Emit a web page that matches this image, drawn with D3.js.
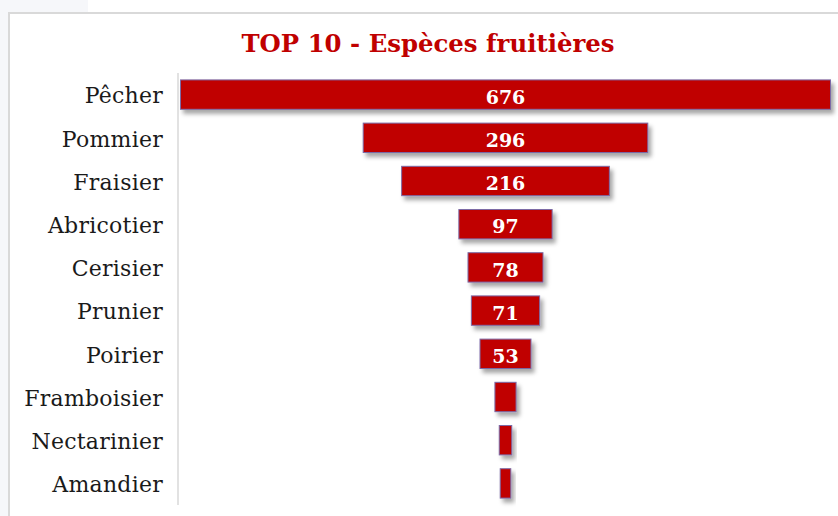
<!DOCTYPE html>
<html>
<head>
<meta charset="utf-8">
<script src="https://cdn.jsdelivr.net/npm/d3@7"></script>
<style>
  html, body { margin: 0; padding: 0; background: #ffffff; }
  svg { display: block; }
</style>
</head>
<body>
<svg id="chart" width="838" height="516"></svg>
<script>
const categories = ["Pêcher", "Pommier", "Fraisier", "Abricotier", "Cerisier", "Prunier", "Poirier", "Framboisier", "Nectarinier", "Amandier"];
const values = [676, 296, 216, 97, 78, 71, 53, 22, 13, 11];
const titleText = "TOP 10 - Espèces fruitières";

const W = 838, H = 516;
const svg = d3.select("#chart");

// page background & frame
svg.append("rect").attr("x", 0).attr("y", 0).attr("width", W).attr("height", H).attr("fill", "#f6f7fa");
svg.append("rect").attr("x", 88).attr("y", 0).attr("width", W - 88).attr("height", 12).attr("fill", "#ffffff");
svg.append("rect").attr("x", 9).attr("y", 13).attr("width", W).attr("height", H)
  .attr("fill", "#ffffff").attr("stroke", "#d9d9d9").attr("stroke-width", 2);

const defs = svg.append("defs");
const f = defs.append("filter").attr("id", "shadow").attr("x", "-20%").attr("y", "-30%").attr("width", "160%").attr("height", "180%");
f.append("feDropShadow").attr("dx", 3).attr("dy", 4).attr("stdDeviation", 2.2)
  .attr("flood-color", "#000000").attr("flood-opacity", 0.35);

const centerX = 505.5;
const k = 650 / 676;
const maxV = d3.max(values);
const x = d3.scaleLinear().domain([0, maxV]).range([0, maxV * k]);

const y = d3.scaleBand().domain(categories).range([73, 505]).paddingInner(0.32).paddingOuter(0.16);

// axis line
svg.append("line").attr("x1", 178).attr("x2", 178).attr("y1", 73).attr("y2", 505)
  .attr("stroke", "#d9d9d9").attr("stroke-width", 1.5);

// category labels via axis
const yAxis = d3.axisLeft(y).tickSize(0).tickPadding(15);
const ax = svg.append("g").attr("transform", "translate(178,0)").call(yAxis);
ax.select(".domain").remove();
ax.selectAll("text")
  .attr("font-family", "'DejaVu Serif', serif")
  .attr("font-size", 22)
  .attr("letter-spacing", 0.25)
  .attr("dy", "0.40em")
  .attr("fill", "#1a1a1a");

// bars
const data = categories.map((c, i) => ({ c, v: values[i] }));
svg.append("g").selectAll("rect").data(data).join("rect")
  .attr("x", d => centerX - x(d.v) / 2)
  .attr("y", d => y(d.c))
  .attr("width", d => x(d.v))
  .attr("height", y.bandwidth())
  .attr("fill", "#c00000")
  .attr("stroke", "#7b6aa6")
  .attr("stroke-width", 1)
  .attr("filter", "url(#shadow)");

// value labels
svg.append("g").selectAll("text").data(data.filter(d => x(d.v) > 40)).join("text")
  .attr("x", centerX)
  .attr("y", d => y(d.c) + y.bandwidth() / 2)
  .attr("dy", 9.2)
  .attr("text-anchor", "middle")
  .attr("font-family", "'DejaVu Serif', serif")
  .attr("font-weight", "bold")
  .attr("font-size", 19)
  .attr("fill", "#ffffff")
  .text(d => d.v);

// title
const title = svg.append("text")
  .attr("x", 428).attr("y", 52)
  .attr("text-anchor", "middle")
  .attr("font-family", "'DejaVu Serif', serif")
  .attr("font-weight", "bold")
  .attr("font-size", 22)
  .attr("fill", "#c00000")
  .text(titleText);
const tw = title.node().getComputedTextLength();
if (tw > 0) {
  let fs = Math.min(25, 22 * 373 / tw);
  title.attr("font-size", fs);
  const tw2 = title.node().getComputedTextLength();
  const extra = (373 - tw2) / (titleText.length - 1);
  if (extra > 0) title.attr("letter-spacing", extra);
}
</script>
</body>
</html>
